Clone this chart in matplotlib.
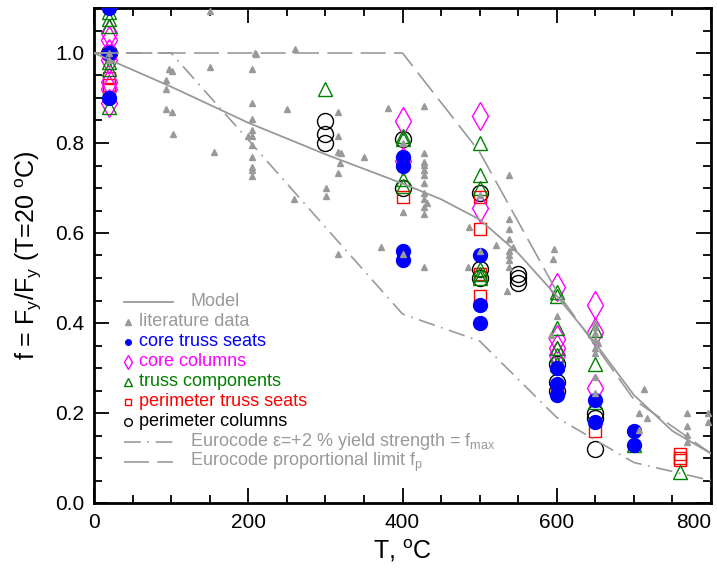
import numpy as np
import matplotlib
matplotlib.use("Agg")
import matplotlib.pyplot as plt

plt.rcParams["font.family"] = ["Liberation Sans", "DejaVu Sans"]
plt.rcParams["mathtext.fontset"] = "custom"
plt.rcParams["mathtext.rm"] = "Liberation Sans"
plt.rcParams["mathtext.it"] = "Liberation Sans"
plt.rcParams["mathtext.default"] = "regular"

# Curvas
model_T = [0, 100, 200, 300, 400, 450, 500, 550, 600, 650, 700, 750, 800]
model_f = [1.0, 0.925, 0.845, 0.775, 0.71, 0.675, 0.63, 0.555, 0.46, 0.355, 0.24, 0.16, 0.11]

ec_T = [0, 100, 200, 300, 400, 500, 600, 700, 800]
ec_yield_f = [1.0, 1.0, 0.807, 0.613, 0.42, 0.36, 0.19, 0.09, 0.05]   # dash-dot
ec_prop_f = [1.0, 1.0, 1.0, 1.0, 1.0, 0.78, 0.47, 0.23, 0.11]         # dashed

# Datos de ensayo
cts_T = [20, 20, 20, 400, 400, 400, 400, 500, 500, 500, 600, 600, 600, 650, 650, 700, 700]
cts_f = [1.10, 1.0, 0.90, 0.77, 0.75, 0.56, 0.54, 0.55, 0.44, 0.40, 0.30, 0.265, 0.24, 0.23, 0.18, 0.16, 0.13]

cc_T = [20, 20, 20, 20, 20, 20, 20, 400, 400, 500, 500, 600, 600, 600, 600, 650, 650, 650]
cc_f = [1.045, 1.03, 1.0, 0.985, 0.935, 0.92, 0.89, 0.85, 0.76, 0.86, 0.655, 0.48, 0.365, 0.345, 0.33, 0.44, 0.38, 0.255]

tc_T = [20, 20, 20, 20, 20, 20, 300, 400, 400, 400, 400, 500, 500, 500, 500, 500, 500,
        600, 600, 600, 600, 600, 600, 650, 650, 650, 700, 760]
tc_f = [1.09, 1.075, 1.06, 0.98, 0.965, 0.88, 0.92, 0.815, 0.81, 0.72, 0.705, 0.80, 0.73, 0.70, 0.52, 0.51, 0.50,
        0.47, 0.46, 0.39, 0.345, 0.33, 0.31, 0.385, 0.31, 0.225, 0.13, 0.07]

pts_T = [20, 20, 20, 400, 500, 500, 500, 500, 600, 650, 760, 760, 760]
pts_f = [0.945, 0.93, 0.92, 0.68, 0.68, 0.61, 0.51, 0.46, 0.25, 0.16, 0.11, 0.10, 0.095]

pc_T = [20, 300, 300, 300, 400, 400, 500, 500, 500, 550, 550, 550, 600, 600, 600, 650, 650, 650]
pc_f = [1.0, 0.85, 0.82, 0.80, 0.81, 0.70, 0.69, 0.52, 0.50, 0.51, 0.50, 0.49, 0.31, 0.27, 0.25, 0.20, 0.19, 0.12]

# Datos de literatura
lit_T = [20, 20, 97, 101, 93, 93, 93, 101, 102, 150, 150, 155,
         205, 209, 210, 261, 205, 205, 205, 205, 200, 205, 205, 205, 205, 205, 250,
         316, 316, 316, 320, 319, 316, 301, 301, 259, 350, 381, 428, 372, 316, 400, 400, 400, 428,
         428, 428, 428, 428, 428, 428, 428, 428, 428, 428, 432,
         486, 485, 500, 500,
         538, 538, 538, 538, 543, 538, 538, 538, 538, 535, 521,
         596, 595, 600, 592,
         650, 650, 650, 650, 650, 650, 650, 650, 653,
         713, 706, 717, 706, 769, 769, 769, 769, 796, 796]
lit_f = [1.0, 0.985, 0.964, 0.96, 0.94, 0.92, 0.875, 0.87, 0.82, 0.97, 1.093, 0.78,
         0.964, 1.0, 0.998, 1.01, 0.89, 0.853, 0.83, 0.815, 0.815, 0.796, 0.77, 0.747, 0.74, 0.727, 0.876,
         0.869, 0.816, 0.78, 0.777, 0.755, 0.733, 0.70, 0.682, 0.676, 0.769, 0.877, 0.882, 0.569, 0.553, 0.553, 0.647, 0.80, 0.524,
         0.777, 0.758, 0.751, 0.74, 0.729, 0.711, 0.689, 0.676, 0.658, 0.642, 0.667,
         0.613, 0.524, 0.684, 0.56,
         0.729, 0.631, 0.609, 0.587, 0.569, 0.56, 0.55, 0.54, 0.525, 0.471, 0.573,
         0.564, 0.542, 0.416, 0.373,
         0.40, 0.391, 0.378, 0.362, 0.344, 0.333, 0.28, 0.244, 0.355,
         0.253, 0.20, 0.19, 0.162, 0.20, 0.171, 0.151, 0.135, 0.20, 0.18]

gris = "#999999"
azul = "#0000FF"
magenta = "#FF00FF"
verde = "#008000"
rojo = "#FF0000"

fig = plt.figure(figsize=(7.17, 5.70), dpi=100)
ax = fig.add_axes([94 / 717, 67 / 570, 617 / 717, 495 / 570])

ax.plot(pc_T, pc_f, "o", ms=11.5, mfc="none", mec="black", mew=1.0, zorder=3)
ax.plot(pts_T, pts_f, "s", ms=8, mfc="none", mec=rojo, mew=1.0, zorder=3)
ax.plot(cc_T, cc_f, "d", ms=14, mfc="none", mec=magenta, mew=1.0, zorder=3)
ax.plot(tc_T, tc_f, "^", ms=10.5, mfc="none", mec=verde, mew=1.0, zorder=3)
ax.plot(cts_T, cts_f, "o", ms=10, mfc=azul, mec=azul, zorder=3)

ax.plot(model_T, model_f, "-", color=gris, lw=1.3, zorder=5)
ax.plot(ec_T, ec_yield_f, color=gris, lw=1.2, dashes=(10, 4, 1, 4), zorder=5)
ax.plot(ec_T, ec_prop_f, color=gris, lw=1.2, dashes=(15, 5), zorder=5)
ax.plot(lit_T, lit_f, "^", ms=4.3, color=gris, mec=gris, zorder=6)

ax.set_xlim(0, 800)
ax.set_ylim(0, 1.1)
ax.set_xticks([0, 200, 400, 600, 800])
ax.set_xticks(np.arange(0, 801, 50), minor=True)
ax.set_yticks([0.0, 0.2, 0.4, 0.6, 0.8, 1.0])
ax.set_yticks(np.arange(0, 1.101, 0.05), minor=True)
ax.set_yticklabels(["0.0", "0.2", "0.4", "0.6", "0.8", "1.0"])
ax.tick_params(which="both", direction="in", top=True, right=True, width=1.3, labelsize=15, pad=7)
ax.tick_params(which="major", length=11)
ax.tick_params(which="minor", length=6)
for s in ax.spines.values():
    s.set_linewidth(2)
ax.xaxis.get_major_ticks()[-1].label1.set_horizontalalignment("right")

ax.set_xlabel(r"T, $^o$C", fontsize=18, labelpad=4)
ax.set_ylabel(r"f = F$_y$/F$_y$ (T=20 $^o$C)", fontsize=18, labelpad=8)

# Leyenda manual
def px(x, y):
    return (x - 94) / 617, (503 - y) / 495

tr = ax.transAxes
filas = [
    ("Model", gris, "line", None),
    ("literature data", gris, "marker", dict(marker="^", ms=4.3, mfc=gris, mec=gris)),
    ("core truss seats", azul, "marker", dict(marker="o", ms=4.0, mfc=azul, mec=azul)),
    ("core columns", magenta, "marker", dict(marker="d", ms=7.5, mfc="none", mec=magenta, mew=1.0)),
    ("truss components", verde, "marker", dict(marker="^", ms=5.5, mfc="none", mec=verde, mew=1.0)),
    ("perimeter truss seats", rojo, "marker", dict(marker="s", ms=5.0, mfc="none", mec=rojo, mew=1.0)),
    ("perimeter columns", "black", "marker", dict(marker="o", ms=5.5, mfc="none", mec="black", mew=1.0)),
    (r"Eurocode ε=+2 % yield strength = f$_{max}$", gris, "dashdot", None),
    (r"Eurocode proportional limit f$_p$", gris, "dash", None),
]
y0 = 302
for i, (txt, col, kind, mk) in enumerate(filas):
    yy = y0 + 20 * i
    if kind == "marker":
        x1, y1 = px(128, yy)
        ax.plot([x1], [y1], transform=tr, linestyle="none", clip_on=False, zorder=7, **mk)
        xt, yt = px(139, yy)
    else:
        xa, ya = px(124, yy)
        xb, _ = px(173, yy)
        if kind == "line":
            ax.plot([xa, xb], [ya, ya], "-", color=gris, lw=1.3, transform=tr, zorder=7)
        elif kind == "dashdot":
            ax.plot([xa, xb], [ya, ya], color=gris, lw=1.2, dashes=(10, 4, 1, 4), transform=tr, zorder=7)
        else:
            ax.plot([xa, xb], [ya, ya], color=gris, lw=1.2, dashes=(15, 5), transform=tr, zorder=7)
        xt, yt = px(190, yy)
    ax.text(xt, yt, txt, color=col, fontsize=13, transform=tr, va="center", ha="left", zorder=7)

plt.savefig("out.png", dpi=100)
plt.close()
